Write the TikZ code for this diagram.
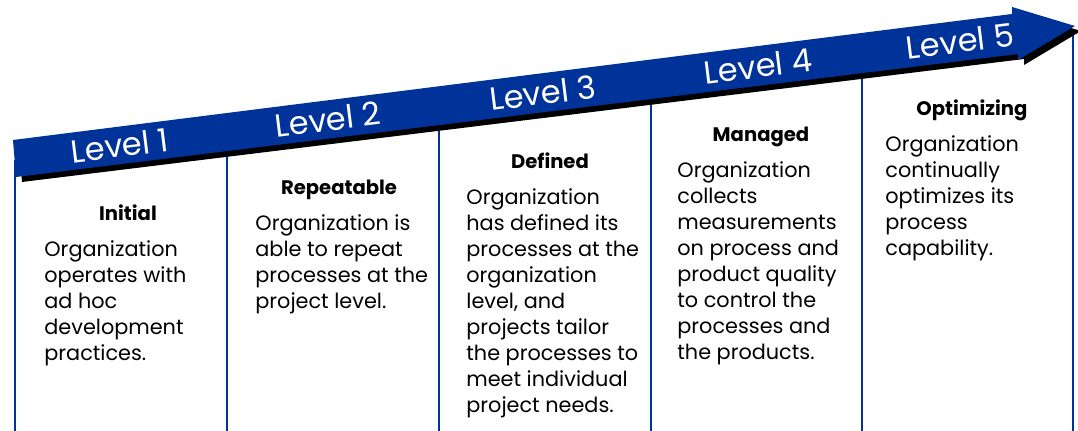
\documentclass[tikz,border=0pt]{standalone}
\usepackage{fontspec}
\setmainfont{Poppins}
\definecolor{cmmblue}{RGB}{0,51,153}
\tikzset{
  lvl/.style={text=white,font=\fontsize{16}{16}\selectfont,rotate=7.1,inner sep=0pt},
  ttl/.style={font=\bfseries\fontsize{9.8}{11}\selectfont,anchor=base,inner sep=0pt},
  body/.style={font=\fontsize{10.4}{13}\selectfont,align=left,anchor=base west,inner sep=0pt}
}
\begin{document}
\begin{tikzpicture}[x=0.5pt,y=-0.5pt]
  \useasboundingbox (0,0) rectangle (1078,431);
  \foreach \x/\y in {15/160,227/132,439/106,651/80,862/53,1073/30}
    \draw[cmmblue,line width=1pt] (\x,\y) -- (\x,431);
  \fill[black,shift={(6,5)}] (13,140) -- (1012,14) -- (1012,7) -- (1075,26)
    -- (1018,60) -- (1018,54) -- (16,177) -- cycle;
  \fill[cmmblue] (13,140) -- (1012,14) -- (1012,7) -- (1075,26)
    -- (1018,60) -- (1018,54) -- (16,177) -- cycle;
  \foreach \i/\x/\y in {1/120/145.4,2/328/119.5,3/543/92.7,4/758/66,5/960/40.9}
    \node[lvl] (lvl\i) at (\x,\y) {Level \i};
  \node[ttl] (ttl1) at (128,221) {Initial};
  \node[ttl] (ttl2) at (339,194.7) {Repeatable};
  \node[ttl] (ttl3) at (550,168.4) {Defined};
  \node[ttl] (ttl4) at (761,142) {Managed};
  \node[ttl] (ttl5) at (972,115.8) {Optimizing};
  \node[body] (txt1) at (44,361) {Organization\\operates with\\ad hoc\\development\\practices.};
  \node[body] (txt2) at (255,308.7) {Organization is\\able to repeat\\processes at the\\project level.};
  \node[body] (txt3) at (466,412.4) {Organization\\has defined its\\processes at the\\organization\\level, and\\projects tailor\\the processes to\\meet individual\\project needs.};
  \node[body] (txt4) at (677,360) {Organization\\collects\\measurements\\on process and\\product quality\\to control the\\processes and\\the products.};
  \node[body] (txt5) at (885,255.7) {Organization\\continually\\optimizes its\\process\\capability.};
\end{tikzpicture}
\end{document}
